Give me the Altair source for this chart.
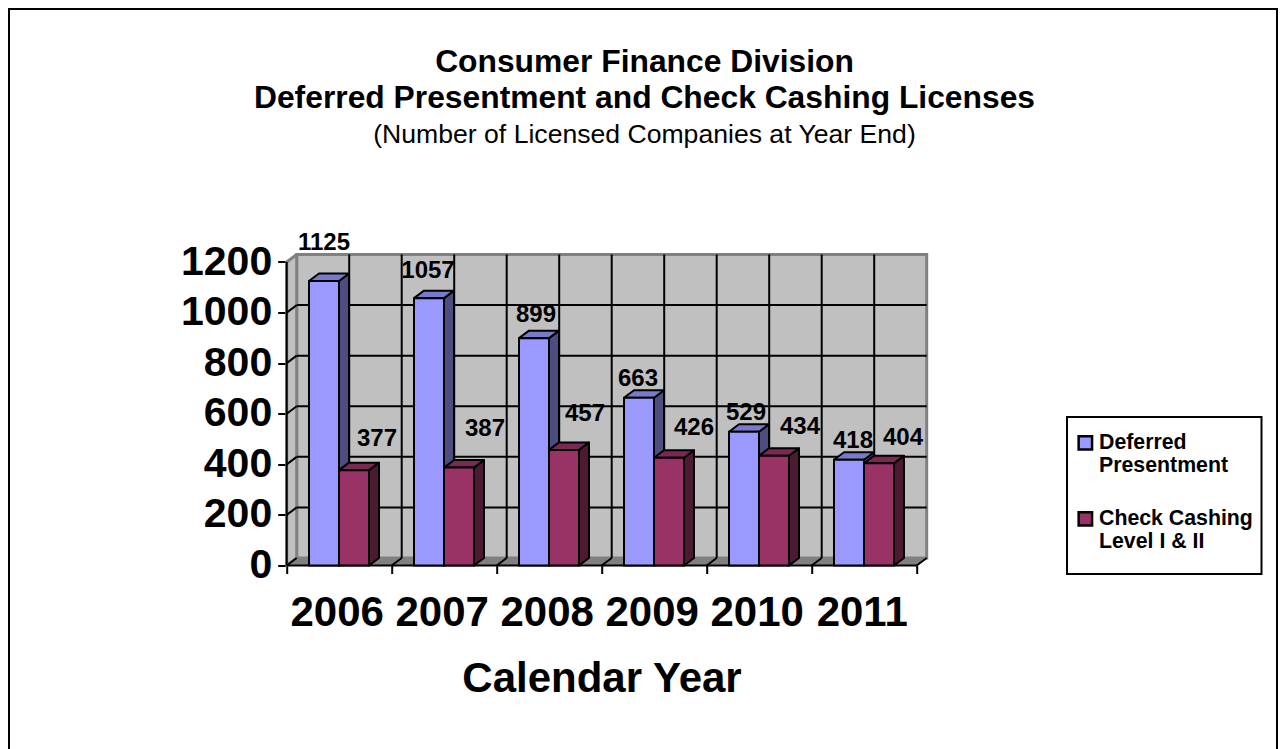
import altair as alt
import pandas as pd

years = [2006, 2007, 2008, 2009, 2010, 2011]
deferred = [1125, 1057, 899, 663, 529, 418]
check_cashing = [377, 387, 457, 426, 434, 404]
series_names = ["Deferred Presentment", "Check Cashing Level I & II"]
y_ticks = [0, 200, 400, 600, 800, 1000, 1200]

# layout (px) of the plot area and the fake 3-D depth
LEFT, TOP_AXIS, BOTTOM = 286.7, 262.0, 565.5
CAT_W = 105.0
DX, DY = 10.0, 7.5
PX_PER_UNIT = (BOTTOM - TOP_AXIS) / 1200
X_MAX = 6 + DX / CAT_W
Y_MAX = 1200 + DY / PX_PER_UNIT
ux, uy = DX / CAT_W, DY / PX_PER_UNIT
BAR_START, BAR_W = 22.3 / CAT_W, 30.0 / CAT_W
PLOT_W, PLOT_H = 6 * CAT_W + DX, BOTTOM - TOP_AXIS + DY
PLOT_TOP = BOTTOM - PLOT_H
PAD_L, PAD_T = LEFT - 8, PLOT_TOP - 8

# label nudges: pixels from the bar's centre / top
label_nudge_deferred = [(0, 38), (-1, 27), (2, 23), (-1, 19), (2, 19), (4, 19)]
label_nudge_check = [(23, 31), (26, 39), (21, 36), (25, 30), (26, 29), (24, 25)]

x_scale = alt.Scale(domain=[0, X_MAX], nice=False, zero=False)
y_scale = alt.Scale(domain=[0, Y_MAX], nice=False, zero=False)
x_enc = alt.X("x:Q", scale=x_scale,
              axis=alt.Axis(values=list(range(7)),
                            labelExpr=f"datum.value < {len(years)} ? '' + ({years[0]} + datum.value) : ''",
                            labelOffset=50, labelFontSize=42, labelFontWeight="bold", labelFont="Liberation Sans",
                            labelColor="black", labelPadding=19, labelFlush=False, labelOverlap=False, labelBound=False,
                            tickColor="black", tickWidth=2, tickSize=8, grid=False, domain=False,
                            title="Calendar Year", titleFontSize=42, titleFont="Liberation Sans",
                            titleFontWeight="bold", titleColor="black", titleX=314.8, titleY=112.5,
                            titleBaseline="middle", titleAlign="center"))
y_enc = alt.Y("y:Q", scale=y_scale,
              axis=alt.Axis(values=y_ticks, format="d", labelFontSize=41, labelFontWeight="bold", labelFont="Liberation Sans",
                            labelColor="black", labelPadding=6, labelFlush=False, labelOverlap=False, labelBound=False,
                            tickColor="black", tickWidth=2, tickSize=9, grid=False, domain=False, title=None))


def polygon(rows, fill, stroke="black", sw=2):
    return alt.Chart(pd.DataFrame(rows)).mark_area(fill=fill, stroke=stroke, strokeWidth=sw, interpolate="linear", orient="horizontal", strokeJoin="round").encode(
        y=y_enc, x=x_enc, x2="x2:Q", detail="id:N")


def vpolygon(rows, fill, stroke="black", sw=2):
    return alt.Chart(pd.DataFrame(rows)).mark_area(fill=fill, stroke=stroke, strokeWidth=sw, interpolate="linear", orient="vertical", strokeJoin="round").encode(
        x=x_enc, y=y_enc, y2="y2:Q", detail="id:N")


layers = []

# frame of the whole picture
frame = alt.Chart(pd.DataFrame({"a": [0]})).mark_rect(filled=False, stroke="black", strokeWidth=2).encode(
    x=alt.value(9 - LEFT), x2=alt.value(1277 - LEFT), y=alt.value(9 - PLOT_TOP), y2=alt.value(760 - PLOT_TOP))
layers.append(frame)

# box behind the legend
legend_box = alt.Chart(pd.DataFrame({"a": [0]})).mark_rect(filled=False, stroke="black", strokeWidth=2).encode(
    x=alt.value(1067 - LEFT), x2=alt.value(1261.5 - LEFT), y=alt.value(417 - PLOT_TOP), y2=alt.value(574 - PLOT_TOP))
layers.append(legend_box)

# back wall
wall = alt.Chart(pd.DataFrame({"x": [ux], "x2": [X_MAX], "y": [uy], "y2": [Y_MAX]})).mark_rect(fill="#C0C0C0", stroke="#808080", strokeWidth=3).encode(
    x=x_enc, x2="x2:Q", y=y_enc, y2="y2:Q")
layers.append(wall)

# side wall and floor
layers.append(vpolygon([{"id": 0, "x": 0, "y": 0, "y2": 1200}, {"id": 0, "x": ux, "y": uy, "y2": Y_MAX}], "#C0C0C0", "#808080", 3))
layers.append(vpolygon([{"id": 0, "x": 0, "y": 0, "y2": 0}, {"id": 0, "x": ux, "y": 0, "y2": uy},
                        {"id": 0, "x": 6, "y": 0, "y2": uy}, {"id": 0, "x": X_MAX, "y": uy, "y2": uy}], "#808080", "#808080", 1))

# gridlines on the back wall
hgrid = alt.Chart(pd.DataFrame({"y": [t + uy for t in y_ticks[1:-1]], "x": [ux] * 5, "x2": [X_MAX] * 5})).mark_rule(color="black", strokeWidth=2).encode(
    x=x_enc, x2="x2:Q", y=y_enc)
vvals = [ux + i * 0.5 for i in range(1, 12)]
vgrid = alt.Chart(pd.DataFrame({"x": vvals, "y": [uy] * 11, "y2": [Y_MAX] * 11})).mark_rule(color="black", strokeWidth=2).encode(
    x=x_enc, y=y_enc, y2="y2:Q")
layers += [hgrid, vgrid]

# floor ticks and wall ticks in depth
rows = []
for i in range(1, 7):
    rows += [{"id": f"f{i}", "x": i, "y": 0}, {"id": f"f{i}", "x": i + ux, "y": uy}]
for j, t in enumerate(y_ticks[:-1]):
    rows += [{"id": f"w{j}", "x": 0, "y": t}, {"id": f"w{j}", "x": ux, "y": t + uy}]
depth = alt.Chart(pd.DataFrame(rows)).mark_line(color="black", strokeWidth=2).encode(
    x=x_enc, y=y_enc, detail="id:N")
layers.append(depth)

# axis lines
ax = pd.DataFrame({"id": ["h", "h", "v", "v"], "x": [0, 6, 0, 0], "y": [0, 0, 0, 1200]})
layers.append(alt.Chart(ax).mark_line(color="black", strokeWidth=2).encode(
    x=x_enc, y=y_enc, detail="id:N"))

palette = {series_names[0]: ("#9999FF", "#4D4D80", "#7A7ACC"), series_names[1]: ("#993366", "#4D1A33", "#7A2952")}
color_scale = alt.Scale(domain=series_names, range=[palette[series_names[0]][0], palette[series_names[1]][0]])

legend = alt.Legend(
    title=None, orient="none", legendX=1063.7 - LEFT, legendY=421.2 - PLOT_TOP,
    symbolType="square", symbolSize=180, symbolStrokeColor="black", symbolStrokeWidth=2.5, symbolOpacity=1,
    labelFont="Liberation Sans", labelFontSize=21.3, labelFontWeight="bold", labelColor="black",
    labelExpr="datum.label == 'Deferred Presentment' ? ['Deferred','Presentment'] : ['Check Cashing','Level I & II']",
    labelLimit=400, labelBaseline="middle", labelOffset=3, rowPadding=29, padding=11, cornerRadius=0)

for s, (name, values) in enumerate(zip(series_names, [deferred, check_cashing])):
    front, side, top = palette[name]
    x0 = [i + BAR_START + s * BAR_W for i in range(len(years))]
    side_rows, top_rows, front_rows = [], [], []
    for i, (x, v) in enumerate(zip(x0, values)):
        side_rows += [{"id": i, "x": x + BAR_W, "y": 0, "y2": v}, {"id": i, "x": x + BAR_W + ux, "y": uy, "y2": v + uy}]
        top_rows += [{"id": i, "y": v, "x": x, "x2": x + BAR_W}, {"id": i, "y": v + uy, "x": x + ux, "x2": x + BAR_W + ux}]
        front_rows.append({"series": name, "x": x, "x2": x + BAR_W, "y": v, "y2": 0})
    layers.append(vpolygon(side_rows, side))
    layers.append(polygon(top_rows, top))
    layers.append(alt.Chart(pd.DataFrame(front_rows)).mark_rect(stroke="black", strokeWidth=2, opacity=1).encode(
        x=x_enc, x2="x2:Q", y=y_enc, y2="y2:Q",
        color=alt.Color("series:N", scale=color_scale, legend=legend)))

# data labels
lab = []
for s, (values, nudges) in enumerate(zip([deferred, check_cashing], [label_nudge_deferred, label_nudge_check])):
    for i, (v, (nx, ny)) in enumerate(zip(values, nudges)):
        lab.append({"x": i + BAR_START + (s + 0.5) * BAR_W + nx / CAT_W, "y": v + ny / PX_PER_UNIT, "t": str(v)})
layers.append(alt.Chart(pd.DataFrame(lab)).mark_text(font="Liberation Sans", fontSize=24, fontWeight="bold", color="black", align="center", baseline="middle").encode(
    x=x_enc, y=y_enc, text="t:N"))

title = alt.TitleParams(
    text=["Consumer Finance Division", "Deferred Presentment and Check Cashing Licenses"],
    subtitle="(Number of Licensed Companies at Year End)",
    font="Liberation Sans", fontSize=31.8, fontWeight="bold", color="black", lineHeight=36.5,
    subtitleFont="Liberation Sans", subtitleFontSize=26.6, subtitleColor="black", subtitleFontWeight="normal", subtitlePadding=7,
    anchor="start", align="center", frame="group", dx=644.5 - LEFT, dy=140.5, offset=0)

chart = alt.layer(*layers).properties(
    width=PLOT_W, height=PLOT_H, title=title,
    autosize=alt.AutoSizeParams(type="none"),
    padding={"left": PAD_L, "top": PAD_T, "right": 1270 - PLOT_W - PAD_L, "bottom": 741 - PLOT_H - PAD_T},
    background="white",
).configure_view(stroke=None).resolve_scale(x="shared", y="shared")

chart.save("out.html", embed_options={"renderer": "svg", "actions": False})
